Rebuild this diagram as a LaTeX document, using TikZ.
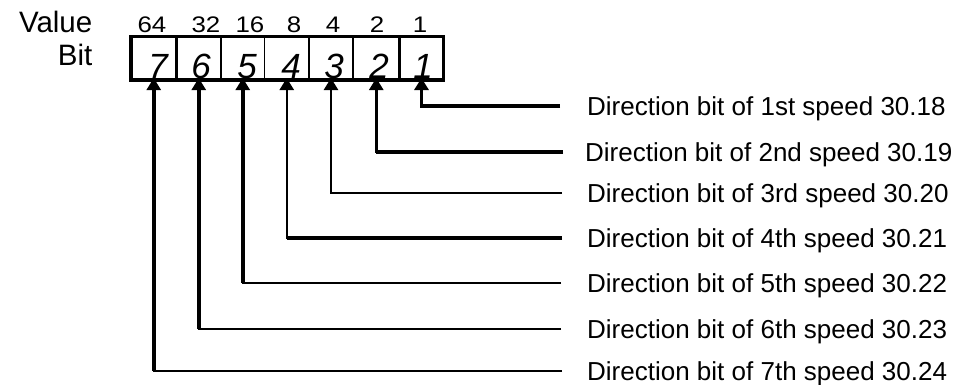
\documentclass[tikz,border=0pt]{standalone}
\usepackage{fontspec}
\setmainfont{Liberation Sans}
\usetikzlibrary{arrows.meta}
\begin{document}
\begin{tikzpicture}[x=1pt,y=-1pt,
  cell/.style={draw, line width=1.6pt, minimum height=43.5pt, inner sep=0pt, outer sep=0pt},
  frame/.style={line width=3.2pt},
  dig/.style={anchor=base, inner sep=0pt, font=\fontsize{35}{40}\selectfont\itshape},
  num/.style={anchor=base, inner sep=0pt, font=\fontsize{22.5}{26}\selectfont},
  head/.style={anchor=base east, inner sep=0pt, font=\fontsize{29.5}{34}\selectfont},
  lab/.style={anchor=base west, inner sep=0pt, font=\fontsize{26}{30}\selectfont},
  arrowup/.style={-{Triangle[width=14pt,length=12pt]}, shorten >=-2pt},
  lthick/.style={line width=4pt},
  lmed/.style={line width=3.4pt},
  lthin/.style={line width=2.5pt}]
\useasboundingbox (0,0) rectangle (970,384);

% headings
\node[head] (val) at (92.5,32) {Value};
\node[head] (bit) at (92.5,65) {Bit};

% register cells
\node[cell, minimum width=45.5pt] (c7) at (153.75,58.25) {};
\node[cell, minimum width=44.5pt] (c6) at (198.75,58.25) {};
\node[cell, minimum width=43.5pt] (c5) at (242.75,58.25) {};
\node[cell, minimum width=44.5pt] (c4) at (286.75,58.25) {};
\node[cell, minimum width=44pt]   (c3) at (331,58.25) {};
\node[cell, minimum width=46.5pt] (c2) at (376.25,58.25) {};
\node[cell, minimum width=44pt]   (c1) at (421.5,58.25) {};
\draw[frame] (c7.north west) rectangle (c1.south east);
\draw[frame] (c7.north east) -- (c7.south east);
\draw[frame] (c2.north east) -- (c2.south east);

% bit numbers
\node[dig] (d7) at (158,78) {7};
\node[dig] (d6) at (201,78) {6};
\node[dig] (d5) at (247,78) {5};
\node[dig] (d4) at (291,78) {4};
\node[dig] (d3) at (334,78) {3};
\node[dig] (d2) at (379,78) {2};
\node[dig] (d1) at (423,78) {1};

% values
\node[num] (v64) at (152,32) {\scalebox{1.15}[1]{64}};
\node[num] (v32) at (206,32) {\scalebox{1.15}[1]{32}};
\node[num] (v16) at (250,32) {\scalebox{1.15}[1]{16}};
\node[num] (v8)  at (294,32) {\scalebox{1.15}[1]{8}};
\node[num] (v4)  at (333,32) {\scalebox{1.15}[1]{4}};
\node[num] (v2)  at (377,32) {\scalebox{1.15}[1]{2}};
\node[num] (v1)  at (420,32) {\scalebox{1.15}[1]{1}};

% labels
\node[lab] (l1) at (587,115) {Direction bit of 1st speed 30.18};
\node[lab] (l2) at (585,161) {Direction bit of 2nd speed 30.19};
\node[lab] (l3) at (587,202) {Direction bit of 3rd speed 30.20};
\node[lab] (l4) at (587,247) {Direction bit of 4th speed 30.21};
\node[lab] (l5) at (587,292) {Direction bit of 5th speed 30.22};
\node[lab] (l6) at (587,338) {Direction bit of 6th speed 30.23};
\node[lab] (l7) at (587,380) {Direction bit of 7th speed 30.24};

% line ends
\coordinate (e1) at (560,106);
\coordinate (e2) at (563,152);
\coordinate (e3) at (562,193);
\coordinate (e4) at (562,238);
\coordinate (e5) at (561,283);
\coordinate (e6) at (561,329);
\coordinate (e7) at (562,371);

% connectors
\draw[lmed, arrowup] (e1) -| (c1.south);

\draw[lthin, arrowup] (e2) -| (c2.south);
\draw[lthick] (e2) -- (c2.south |- e2);

\draw[lthin, arrowup] (e3) -| (c3.south);

\draw[lthin, arrowup] (e4) -| (c4.south);
\draw[lthick] (e4) -- (c4.south |- e4);

\draw[lthin, arrowup] (e5) -| (c5.south);
\draw[lthick, shorten >=10pt] (c5.south |- e5) -- (c5.south);

\draw[lthin, arrowup] (e6) -| (c6.south);
\draw[lthick, shorten >=10pt] (c6.south |- e6) -- (c6.south);

\draw[lthin, arrowup] (e7) -| (c7.south);
\draw[lthick, shorten >=10pt] (c7.south |- e7) -- (c7.south);
\end{tikzpicture}
\end{document}
